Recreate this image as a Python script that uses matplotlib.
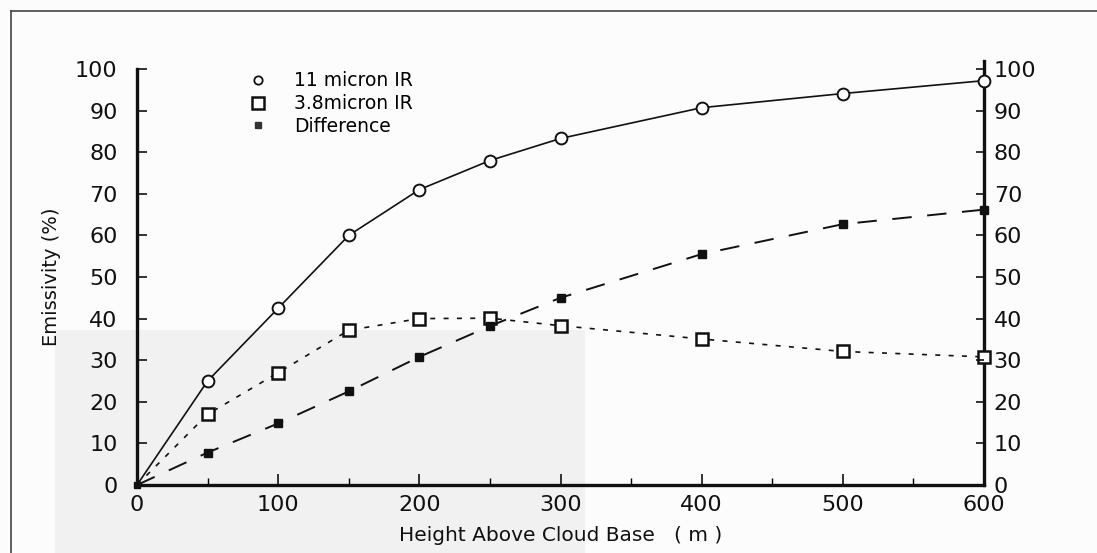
import matplotlib
matplotlib.use("Agg")
import matplotlib.pyplot as plt
from matplotlib.lines import Line2D
from matplotlib.patches import Rectangle

heights = [0, 50, 100, 150, 200, 250, 300, 400, 500, 600]
ir11 = [0, 25, 42.5, 60, 71, 78, 83.3, 90.7, 94.1, 97.2]
ir38 = [0, 17, 27, 37.2, 40, 40.1, 38.3, 35.1, 32.1, 30.8]
diff = [0, 7.8, 14.8, 22.5, 30.8, 38.2, 45, 55.5, 62.7, 66.2]

yticks = list(range(0, 101, 10))
xticks = [0, 100, 200, 300, 400, 500, 600]

plt.rcParams['font.family'] = ['DejaVu Sans']
fig = plt.figure(figsize=(10.97, 5.53), dpi=100)
fig.patch.set_facecolor('#fcfcfc')

# scanned page shading and frame
fig.add_artist(Rectangle((55/1097, 0), 530/1097, 1 - 330/553, transform=fig.transFigure,
                         facecolor='#f1f1f1', edgecolor='none', zorder=-5))
fig.add_artist(Line2D([11/1097, 1], [1 - 11/553, 1 - 11/553], transform=fig.transFigure,
                      color='#444444', lw=1.2))
fig.add_artist(Line2D([11/1097, 11/1097], [0, 1 - 11/553], transform=fig.transFigure,
                      color='#444444', lw=1.2))

ax = fig.add_axes([137/1097, 1 - 485/553, (984 - 137)/1097, (485 - 69)/553])
ax.patch.set_alpha(0)
ax.set_xlim(0, 600)
ax.set_ylim(0, 100)
ax.spines['top'].set_visible(False)
for s in ['left', 'bottom', 'right']:
    ax.spines[s].set_linewidth(2.4)
    ax.spines[s].set_color('#111111')
ax.spines['right'].set_bounds(0, 102)

mk = list(range(1, len(heights)))
ax.plot(heights, ir11, '-', color='#111111', lw=1.2, marker='o', ms=8.5, markevery=mk,
        mfc='white', mec='#111111', mew=1.4, clip_on=False, zorder=3)
ax.plot(heights, ir38, linestyle=(0, (3, 5)), color='#111111', lw=1.2, marker='s', ms=8,
        markevery=mk, mfc='white', mec='#111111', mew=1.8, clip_on=False, zorder=3)
ax.plot(heights, diff, linestyle=(0, (10, 8)), color='#111111', lw=1.4, marker='s', ms=5.5,
        markevery=mk, mfc='#111111', mec='#111111', clip_on=False, zorder=3)
ax.plot([0], [0], marker='s', ms=5, color='#111111', clip_on=False, zorder=4)

ax.set_xticks(xticks)
ax.set_xticks([50, 150, 250, 350, 450, 550], minor=True)
ax.set_yticks(yticks)
ax.tick_params(axis='x', direction='in', length=8, width=1.2, labelsize=16, pad=7,
               colors='#111111')
ax.tick_params(axis='x', which='minor', direction='in', length=5, width=1.0)
ax.tick_params(axis='y', direction='in', length=7, width=1.2, labelsize=16, pad=14,
               labelleft=True, labelright=False, colors='#111111')

ax2 = ax.twinx()
ax2.set_ylim(0, 100)
ax2.set_yticks(yticks)
for s in ax2.spines.values():
    s.set_visible(False)
ax2.tick_params(axis='y', direction='in', length=6, width=1.2, labelsize=16, pad=7,
                colors='#111111')

ax.set_xlabel('Height Above Cloud Base   ( m )', fontsize=14.5, labelpad=8, color='#111111')
ax.set_ylabel('Emissivity (%)', fontsize=14, labelpad=10, color='#111111')

handles = [
    Line2D([], [], ls='none', marker='o', ms=6, mfc='white', mec='#111111', mew=1.3),
    Line2D([], [], ls='none', marker='s', ms=8, mfc='white', mec='#111111', mew=1.8),
    Line2D([], [], ls='none', marker='s', ms=5, mfc='#333333', mec='#333333'),
]
leg = ax.legend(handles, ['11 micron IR', '3.8micron IR', 'Difference'],
                loc='upper left', bbox_to_anchor=(0.11, 1.035), frameon=False,
                fontsize=13.5, handletextpad=1.3, labelspacing=0.2, handlelength=1.2)

fig.savefig('out.png', dpi=100, facecolor=fig.get_facecolor())
